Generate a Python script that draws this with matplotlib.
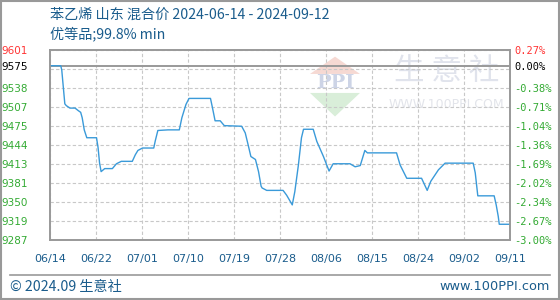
import matplotlib
matplotlib.use("Agg")
import matplotlib.pyplot as plt
from matplotlib.patches import Polygon, Rectangle
from matplotlib.lines import Line2D
import numpy as np

plt.rcParams['font.family'] = ['Noto Sans CJK SC', 'DejaVu Sans']

# price series (x = day position on the axis, y = yuan/t)
days = [0, 2.1, 2.3, 2.9, 3.2, 3.9, 4.9, 5.5, 6.0, 6.3, 6.7, 7.2, 9.1, 9.4, 9.7, 10.0,
        10.7, 12.2, 13.0, 13.95, 16.1, 16.7, 17.2, 18.1, 20.3, 20.6, 21.1, 23.1, 25.3,
        25.8, 26.6, 27.2, 31.4, 31.8, 32.3, 33.3, 34.1, 37.5, 38.2, 38.8, 39.3, 40.2,
        40.8, 41.3, 41.5, 42.4, 45.6, 46.3, 47.4, 47.9, 48.6, 49.2, 49.6, 51.5, 52.2,
        53.5, 54.6, 55.4, 58.7, 59.7, 60.7, 61.6, 62.1, 67.8, 68.5, 69.8, 72.7, 73.8,
        74.5, 76.0, 77.3, 82.8, 83.2, 83.7, 86.9, 87.3, 87.7, 87.9, 90]
price = [9575, 9575, 9568, 9512, 9509, 9505, 9505, 9501, 9498, 9489, 9469, 9456, 9456,
         9440, 9414, 9400, 9405, 9405, 9413, 9417, 9417, 9428, 9435, 9439, 9439, 9451,
         9468, 9469, 9469, 9489, 9511, 9521, 9521, 9505, 9484, 9484, 9476, 9475, 9464,
         9443, 9425, 9420, 9400, 9376, 9373, 9369, 9369, 9361, 9345, 9367, 9411, 9456,
         9470, 9470, 9450, 9425, 9401, 9413, 9413, 9408, 9410, 9435, 9431, 9431, 9411,
         9389, 9389, 9369, 9384, 9403, 9414, 9414, 9398, 9360, 9360, 9345, 9326, 9313,
         9313]

base_price = 9575
y_min, y_max = 9287, 9601
x_ticks = [0, 9, 18, 27, 36, 45, 54, 63, 72, 81, 90]
x_labels = ["06/14", "06/22", "07/01", "07/10", "07/19", "07/28",
            "08/06", "08/15", "08/24", "09/02", "09/11"]
left_labels = ["9287", "9319", "9350", "9381", "9413", "9444", "9475",
               "9507", "9538", "", "9601"]
right_labels = ["-3.00%", "-2.67%", "-2.34%", "-2.02%", "-1.69%", "-1.36%",
                "-1.04%", "-0.71%", "-0.38%", "", "0.27%"]

green = "#33aa33"
red = "#ff3333"
blue_txt = "#1a5c8c"
gray = "#999999"

fig = plt.figure(figsize=(5.6, 3.0), dpi=100)
ax = fig.add_axes([50 / 560, 60 / 300, 460 / 560, 190 / 300])

grid_y = np.linspace(y_min, y_max, 11)

# watermark
wm = dict(transform=ax.transAxes, zorder=0)
ax.add_patch(Polygon([[0.6196, 0.965], [0.5652, 0.874], [0.6739, 0.874]],
                     closed=True, fc="#f6d9d3", ec="none", **wm))
ax.add_patch(Polygon([[0.5652, 0.774], [0.6739, 0.774], [0.6196, 0.650]],
                     closed=True, fc="#d9eed9", ec="none", **wm))
ax.text(0.6196, 0.826, "PPI", ha="center", va="center", fontsize=14,
        fontweight="bold", family="DejaVu Serif", color="#cdd4e6", **wm)
ax.text(0.863, 0.885, "生 意 社", ha="center", va="center", fontsize=22,
        color="#e0e3ec", **wm)
ax.text(0.861, 0.712, "WWW.100PPI.COM", ha="center", va="center", fontsize=9,
        family="DejaVu Sans", color="#e2e4ea", **wm)

# grid
for gy in grid_y:
    ax.axhline(gy, color="#c8c8c8", lw=0.8, ls=(0, (3, 2)), zorder=1)
for gx in x_ticks:
    ax.axvline(gx, color="#c8c8c8", lw=0.8, ls=(0, (3, 2)), zorder=1)
ax.axhline(base_price, color=gray, lw=1.4, zorder=2)

ax.plot(days, price, color="#3a9ad9", lw=1.0, zorder=3)

ax.set_xlim(0, 90)
ax.set_ylim(y_min, y_max)
for s in ax.spines.values():
    s.set_color(gray)
    s.set_linewidth(1.2)

ax.set_xticks(x_ticks)
ax.set_xticklabels(x_labels, fontsize=8, color=blue_txt, family="DejaVu Sans")
ax.tick_params(axis="x", length=0, pad=10)

yt = list(grid_y) + [base_price]
ax.set_yticks(yt)
ax.set_yticklabels(left_labels + ["9575"], fontsize=7.5, family="DejaVu Sans")
ax.tick_params(axis="y", length=0, pad=16)
for i, t in enumerate(ax.get_yticklabels()):
    if i == 10:
        t.set_color(red)
    elif i == 11:
        t.set_color("black")
    else:
        t.set_color(green)

ax2 = ax.twinx()
ax2.set_ylim(y_min, y_max)
ax2.set_yticks(yt)
ax2.set_yticklabels(right_labels + ["0.00%"], fontsize=7.5, family="DejaVu Sans Mono")
ax2.tick_params(axis="y", length=0, pad=3)
for i, t in enumerate(ax2.get_yticklabels()):
    if i == 10:
        t.set_color(red)
    elif i == 11:
        t.set_color("black")
    else:
        t.set_color(green)
for s in ax2.spines.values():
    s.set_color(gray)
    s.set_linewidth(1.2)

# titles
fig.text(50 / 560, 1 - 15 / 300, "苯乙烯 山东 混合价 2024-06-14 - 2024-09-12",
         fontsize=10.2, color=blue_txt, va="center")
fig.text(50 / 560, 1 - 34 / 300, "优等品;99.8% min",
         fontsize=10.2, color=blue_txt, va="center")

# footer and frame
fig.add_artist(Line2D([10 / 560, 550 / 560], [25 / 300, 25 / 300],
                      color=gray, lw=1.2, transform=fig.transFigure))
fig.add_artist(Rectangle((0.5 / 560, 1.5 / 300), 558.5 / 560, 297.5 / 300,
                         fill=False, ec=gray, lw=1.5, transform=fig.transFigure))
fig.text(10 / 560, 13 / 300, "© 2024.09 生意社", fontsize=10.2,
         color=blue_txt, va="center")
fig.text(550 / 560, 13 / 300, "www.100PPI.com", fontsize=9.3,
         color=blue_txt, va="center", ha="right", family="DejaVu Sans")

fig.savefig("out.png", dpi=100)
